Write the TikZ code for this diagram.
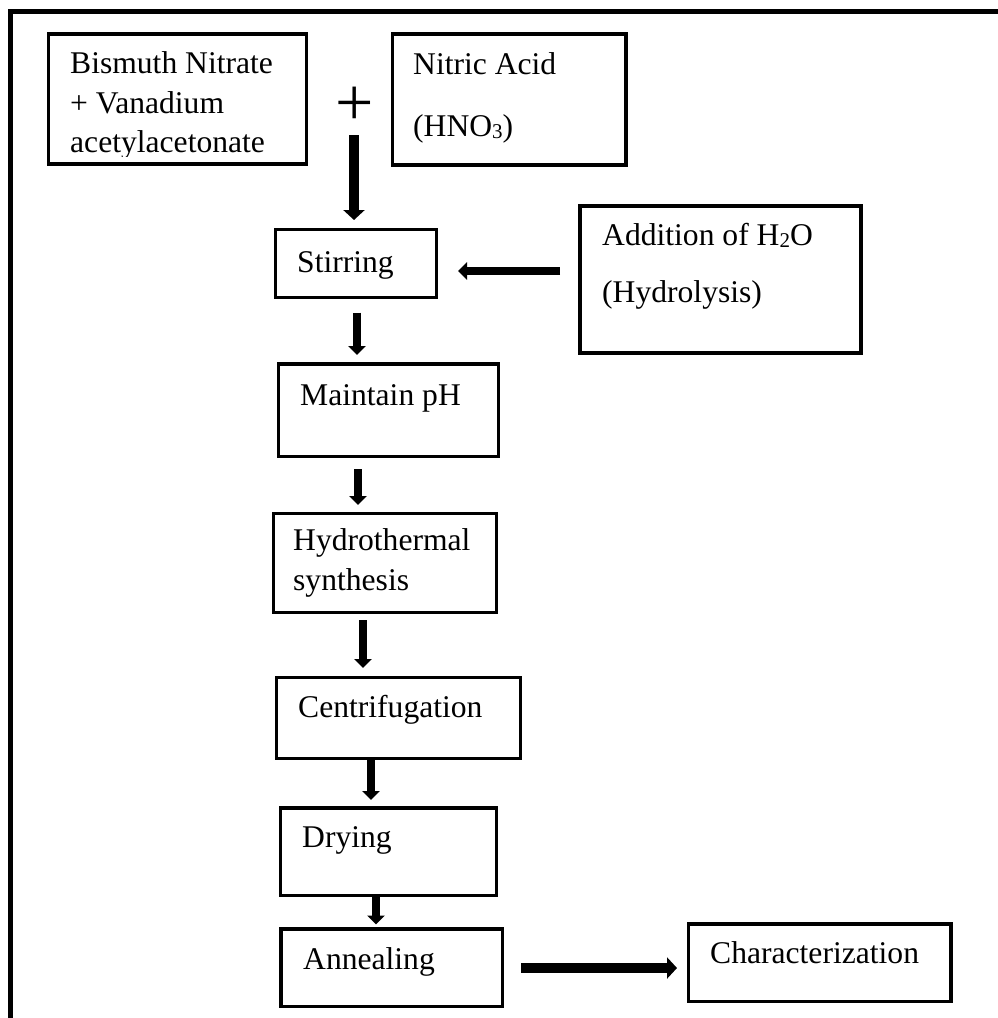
\documentclass[tikz,border=0pt]{standalone}
\usepackage{fontspec}
\setmainfont{Liberation Serif}
\usetikzlibrary{arrows.meta}
% word-processor style subscript: smaller digit, lowered only slightly
\newcommand\lowsub[1]{\raisebox{-0.09em}{\fontsize{21}{21}\selectfont #1}}
\begin{document}
\begin{tikzpicture}[x=1pt,y=-1pt,
  box/.style={draw, line width=3.2pt, inner sep=0pt, outer sep=0pt},
  lbl/.style={anchor=base west, inner sep=0pt, font=\fontsize{31.6}{38}\selectfont},
  arr/.style={line width=8pt, -{Triangle[width=17pt,length=9pt]}},
  bigarr/.style={line width=10pt, -{Triangle[width=21pt,length=10pt]}},
]
\fill[white] (0,0) rectangle (998,1018);
\useasboundingbox (0,0) rectangle (998,1018);

% page frame (top and left rules)
\draw[line width=5pt] (10.5,1018) -- (10.5,11.5) -- (998,11.5);

% process boxes
\node[box, minimum width=258pt, minimum height=130pt] (bis) at (177.5,99) {};
\node[box, minimum width=233.5pt, minimum height=131pt] (nit) at (509.25,99.5) {};
\node[box, minimum width=161pt, minimum height=68pt] (stir) at (356,263.5) {};
\node[box, minimum width=281pt, minimum height=147pt] (add) at (720.5,279.5) {};
\node[box, minimum width=220pt, minimum height=92.5pt] (ph) at (388.5,410.25) {};
\node[box, minimum width=223pt, minimum height=99pt] (hyd) at (385,563) {};
\node[box, minimum width=244pt, minimum height=81pt] (cen) at (398.5,718) {};
\node[box, minimum width=216pt, minimum height=87.5pt] (dry) at (388.5,851.75) {};
\node[box, minimum width=221.5pt, minimum height=77.5pt] (ann) at (391.75,967.75) {};
\node[box, minimum width=262.5pt, minimum height=77.5pt] (cha) at (819.75,962.75) {};

% box texts
\begin{scope}
  \clip (48.5,34) rectangle (306.5,156);
  \node[lbl] (bis-1) at (70,73) {Bismuth Nitrate};
  \node[lbl] (bis-2) at (70,113) {+ Vanadium};
  \node[lbl] (bis-3) at (70,152) {acetylacetonate};
\end{scope}
\node[lbl] (nit-1) at (413,74) {Nitric Acid};
\node[lbl] (nit-2) at (413,136) {(HNO\lowsub{3})};
\node[lbl] (stir-1) at (297,272) {Stirring};
\node[lbl] (add-1) at (602,245) {Addition of H\lowsub{2}O};
\node[lbl] (add-2) at (602,302) {(Hydrolysis)};
\node[lbl] (ph-1) at (300,405) {Maintain pH};
\node[lbl] (hyd-1) at (293,550) {Hydrothermal};
\node[lbl] (hyd-2) at (293,590) {synthesis};
\node[lbl] (cen-1) at (298,717) {Centrifugation};
\node[lbl] (dry-1) at (302,847) {Drying};
\node[lbl] (ann-1) at (303,969) {Annealing};
\node[lbl] (cha-1) at (710,963) {Characterization};

% plus sign between the two starting materials
\node[inner sep=0pt, font=\fontsize{68}{68}\selectfont] (plus) at (354.5,106) {+};

% connectors
\coordinate (mix) at (354,135);
\draw[bigarr, shorten >=9.5pt] (mix) -- (mix |- stir.north);
\draw[arr, shorten <=20pt, shorten >=21.5pt] (add.west |- 0,271) -- (stir.east |- 0,271);
\draw[arr, shorten <=15pt, shorten >=9pt] (stir.south -| 357,0) -- (ph.north -| 357,0);
\draw[arr, shorten <=12.5pt, shorten >=8.5pt] (ph.south -| 358,0) -- (hyd.north -| 358,0);
\draw[arr, shorten <=7.5pt, shorten >=9.5pt] (hyd.south -| 363,0) -- (cen.north -| 363,0);
\draw[arr, shorten >=8pt] (cen.south -| 371,0) -- (dry.north -| 371,0);
\draw[arr, shorten >=4.5pt] (dry.south -| 376,0) -- (ann.north -| 376,0);
\draw[bigarr, shorten <=18.5pt, shorten >=11.5pt] (ann.east |- 0,968) -- (cha.west |- 0,968);
\end{tikzpicture}
\end{document}
